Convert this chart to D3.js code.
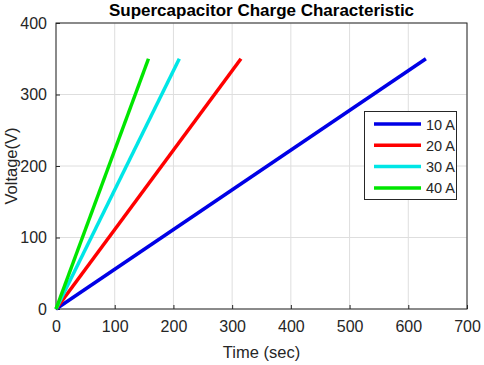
<!DOCTYPE html>
<html>
<head>
<meta charset="utf-8">
<script src="https://cdn.jsdelivr.net/npm/d3@7"></script>
<style>
  body { margin: 0; background: #fff; }
  text { font-family: "Liberation Sans", Arial, sans-serif; }
</style>
</head>
<body>
<div id="chart"></div>
<script>
// Datos: tiempo final de carga para cada corriente
const corrientes = ["10 A", "20 A", "30 A", "40 A"];
const tiempoFinal = [630, 315, 210, 157.5];
const voltajeFinal = [350, 350, 350, 350];
const colores = ["#0000e6", "#ff0000", "#00e6e6", "#00e600"];
const ticksX = [0, 100, 200, 300, 400, 500, 600, 700];
const ticksY = [0, 100, 200, 300, 400];

const width = 484, height = 365;
const margin = { top: 23, right: 17, bottom: 56, left: 56 };

const svg = d3.select('#chart').append('svg')
    .attr('width', width)
    .attr('height', height);

const x = d3.scaleLinear().domain([0, 700]).range([margin.left, width - margin.right]);
const y = d3.scaleLinear().domain([0, 400]).range([height - margin.bottom, margin.top]);

// Rejilla
svg.append('g').selectAll('line.gx')
    .data(ticksX).enter().append('line')
    .attr('x1', d => x(d)).attr('x2', d => x(d))
    .attr('y1', y(0)).attr('y2', y(400))
    .attr('stroke', '#dedede').attr('stroke-width', 1);
svg.append('g').selectAll('line.gy')
    .data(ticksY).enter().append('line')
    .attr('y1', d => y(d)).attr('y2', d => y(d))
    .attr('x1', x(0)).attr('x2', x(700))
    .attr('stroke', '#dedede').attr('stroke-width', 1);

// Ejes con marcas hacia dentro
const ejeX = svg.append('g')
    .attr('transform', `translate(0,${y(0)})`)
    .call(d3.axisBottom(x).tickValues(ticksX).tickSize(-4).tickPadding(12));
const ejeY = svg.append('g')
    .attr('transform', `translate(${x(0)},0)`)
    .call(d3.axisLeft(y).tickValues(ticksY).tickSize(-4).tickPadding(9));
[ejeX, ejeY].forEach(g => {
    g.select('.domain').remove();
    g.selectAll('line').attr('stroke', '#262626');
    g.selectAll('text').attr('font-size', 16).attr('fill', '#262626')
        .style('font-family', '"Liberation Sans", Arial, sans-serif');
});

// Caja del area de dibujo
svg.append('rect')
    .attr('x', x(0)).attr('y', y(400))
    .attr('width', x(700) - x(0)).attr('height', y(0) - y(400))
    .attr('fill', 'none').attr('stroke', '#262626').attr('stroke-width', 1);

// Series
const series = corrientes.map((c, i) => ({
    nombre: c,
    color: colores[i],
    puntos: [[0, 0], [tiempoFinal[i], voltajeFinal[i]]]
}));
const linea = d3.line().x(d => x(d[0])).y(d => y(d[1]));
svg.append('g').selectAll('path')
    .data(series).enter().append('path')
    .attr('d', d => linea(d.puntos))
    .attr('fill', 'none')
    .attr('stroke', d => d.color)
    .attr('stroke-width', 3.5);

// Titulo y etiquetas
svg.append('text')
    .attr('x', (x(0) + x(700)) / 2).attr('y', 16)
    .attr('text-anchor', 'middle')
    .attr('font-size', 17).attr('font-weight', 'bold').attr('fill', '#000')
    .text('Supercapacitor Charge Characteristic');
svg.append('text')
    .attr('x', (x(0) + x(700)) / 2).attr('y', 358)
    .attr('text-anchor', 'middle')
    .attr('font-size', 16.5).attr('fill', '#262626')
    .text('Time (sec)');
svg.append('text')
    .attr('transform', `translate(17,${(y(0) + y(400)) / 2}) rotate(-90)`)
    .attr('text-anchor', 'middle')
    .attr('font-size', 16.5).attr('fill', '#262626')
    .text('Voltage(V)');

// Leyenda
const leyenda = svg.append('g');
leyenda.append('rect')
    .attr('x', 364.5).attr('y', 111.5).attr('width', 92).attr('height', 88)
    .attr('fill', '#fff').attr('stroke', '#262626').attr('stroke-width', 1);
const items = leyenda.selectAll('g.item')
    .data(series).enter().append('g')
    .attr('transform', (d, i) => `translate(0,${124 + i * 21.3})`);
items.append('line')
    .attr('x1', 374).attr('x2', 421)
    .attr('stroke', d => d.color).attr('stroke-width', 3.5);
items.append('text')
    .attr('x', 426).attr('y', 5.5)
    .attr('font-size', 14.5).attr('fill', '#262626')
    .text(d => d.nombre);
</script>
</body>
</html>
